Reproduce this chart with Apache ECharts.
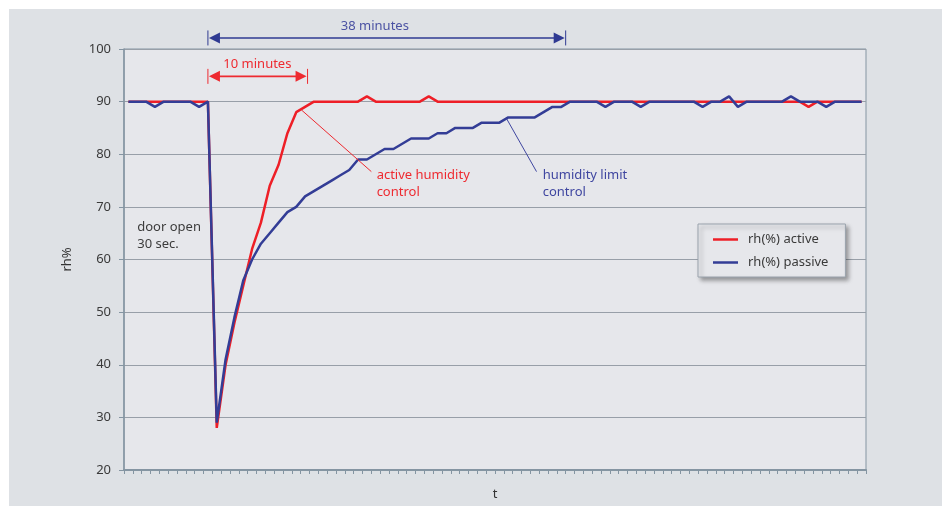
<!DOCTYPE html>
<html><head><meta charset="utf-8">
<script src="https://cdn.jsdelivr.net/npm/echarts@6/dist/echarts.min.js"></script>
<style>
html,body{margin:0;padding:0;background:#ffffff;}
#bg{position:absolute;left:9px;top:9px;width:933px;height:497px;background:#dee1e5;}
#c{position:absolute;left:0;top:0;width:942px;height:506px;}
</style></head><body>
<div id="bg"></div><div id="c"></div>
<script>
// ---- data ----
const categories = ['1','2','3','4','5','6','7','8','9','10','11','12','13','14','15','16','17','18','19','20',
 '21','22','23','24','25','26','27','28','29','30','31','32','33','34','35','36','37','38','39','40',
 '41','42','43','44','45','46','47','48','49','50','51','52','53','54','55','56','57','58','59','60',
 '61','62','63','64','65','66','67','68','69','70','71','72','73','74','75','76','77','78','79','80',
 '81','82','83','84'];
const activeRh = [90,90,90,90,90,90,90,90,90,90,
 28,40,48,55,62,67,74,78,84,88,
 89,90,90,90,90,90,90,91,90,90,
 90,90,90,90,91,90,90,90,90,90,
 90,90,90,90,90,90,90,90,90,90,
 90,90,90,90,90,90,90,90,90,90,
 90,90,90,90,90,90,90,90,90,90,
 90,90,90,90,90,90,90,89,90,90,
 90,90,90,90];
const passiveRh = [90,90,90,89,90,90,90,90,89,90,
 29,41,49,56,60,63,65,67,69,70,
 72,73,74,75,76,77,79,79,80,81,
 81,82,83,83,83,84,84,85,85,85,
 86,86,86,87,87,87,87,88,89,89,
 90,90,90,90,89,90,90,90,89,90,
 90,90,90,90,90,89,90,90,91,89,
 90,90,90,90,90,91,90,90,90,89,
 90,90,90,90];
const yMin = 20, yMax = 100, yStep = 10;
const seriesNames = ['rh(%) active', 'rh(%) passive'];

// annotation anchors in data coordinates [category index, rh value]
const span38 = {from: 9, to: 49.5, level: 102.1, textAt: 27.9, textLevel: 104.3, label: '38 minutes'};
const span10 = {from: 9, to: 20.28, level: 94.8, textAt: 14.6, textLevel: 97.1, label: '10 minutes'};
const activeCallout = {p1: [19.6, 88.4], p2: [27.5, 76.7], text: [28.1, 76.0], lines: ['active humidity', 'control']};
const passiveCallout = {p1: [42.8, 86.8], p2: [46.2, 76.7], text: [46.9, 76.0], lines: ['humidity limit', 'control']};
const doorNote = {at: [1.0, 66.2], lines: ['door open', '30 sec.']};

const RED = '#ee1f27', BLUE = '#333d96', AX = '#8595a2', GRIDC = '#989fa8';
const FONT = '"Noto Sans", "Open Sans", sans-serif';
const LEG_ICON = 'path://M0,0H25V2.5H0Z';

const chart = echarts.init(document.getElementById('c'));
chart.setOption({
  animation: false,
  backgroundColor: 'transparent',
  grid: {left: 124, right: 76, top: 49, bottom: 34, show: true, backgroundColor: '#e6e7eb', borderColor: AX, borderWidth: 1},
  legend: {
    data: seriesNames.map(n => ({name: n, icon: LEG_ICON})),
    orient: 'vertical', left: 698, top: 224, symbolKeepAspect: true,
    padding: [9, 17, 8, 15], itemWidth: 25, itemHeight: 14, itemGap: 10,
    backgroundColor: '#e6e7eb', borderColor: '#9aa3ad', borderWidth: 1,
    shadowColor: 'rgba(0,0,0,0.35)', shadowBlur: 4, shadowOffsetX: 3, shadowOffsetY: 3,
    textStyle: {fontFamily: FONT, fontSize: 13, color: '#3a3a3a', padding: [0, 0, 0, 5]}
  },
  xAxis: {
    type: 'category', data: categories, boundaryGap: true,
    name: 't', nameLocation: 'middle', nameGap: 18,
    nameTextStyle: {fontFamily: FONT, fontSize: 13, color: '#333'},
    axisLine: {lineStyle: {color: AX, width: 2}},
    axisTick: {show: true, interval: 0, length: 4, lineStyle: {color: AX}},
    axisLabel: {show: false},
    splitLine: {show: false}
  },
  yAxis: {
    type: 'value', min: yMin, max: yMax, interval: yStep,
    name: 'rh%', nameLocation: 'middle', nameGap: 50, nameRotate: 90,
    nameTextStyle: {fontFamily: FONT, fontSize: 13, color: '#333'},
    axisLine: {show: true, lineStyle: {color: AX, width: 1.5}},
    axisTick: {show: true, length: 5, lineStyle: {color: AX}},
    axisLabel: {margin: 13, fontFamily: FONT, fontSize: 13, color: '#3a3a3a'},
    splitLine: {show: true, lineStyle: {color: GRIDC, width: 1}}
  },
  series: [
    {name: seriesNames[0], type: 'line', data: activeRh, symbol: 'none', z: 2,
     lineStyle: {color: RED, width: 2.5}, itemStyle: {color: RED}},
    {name: seriesNames[1], type: 'line', data: passiveRh, symbol: 'none', z: 3,
     lineStyle: {color: BLUE, width: 2.5}, itemStyle: {color: BLUE}}
  ]
});

// ---- annotations positioned from data coordinates ----
const x0 = chart.convertToPixel({xAxisIndex: 0}, 0);
const band = chart.convertToPixel({xAxisIndex: 0}, 1) - x0;
function P(i, v) { return [x0 + i * band, chart.convertToPixel({yAxisIndex: 0}, v)]; }

function spanArrow(s, color, textColor) {
  const a = P(s.from, s.level), b = P(s.to, s.level);
  const y = a[1], ah = 12, aw = 5.5, bar = 7.5;
  const t = P(s.textAt, s.textLevel);
  return [
    {type: 'line', shape: {x1: a[0] + 4, y1: y, x2: b[0] - 4, y2: y}, style: {stroke: color, lineWidth: 1.6}},
    {type: 'line', shape: {x1: a[0], y1: y - bar, x2: a[0], y2: y + bar}, style: {stroke: color, lineWidth: 1}},
    {type: 'line', shape: {x1: b[0], y1: y - bar, x2: b[0], y2: y + bar}, style: {stroke: color, lineWidth: 1}},
    {type: 'polygon', shape: {points: [[a[0] + 1, y], [a[0] + ah, y - aw], [a[0] + ah, y + aw]]}, style: {fill: color}},
    {type: 'polygon', shape: {points: [[b[0] - 1, y], [b[0] - ah, y - aw], [b[0] - ah, y + aw]]}, style: {fill: color}},
    {type: 'text', style: {text: s.label, x: t[0], y: t[1], fill: textColor, font: '13px ' + FONT, textAlign: 'center', textVerticalAlign: 'middle'}}
  ];
}
function callout(c, color) {
  const a = P(c.p1[0], c.p1[1]), b = P(c.p2[0], c.p2[1]), t = P(c.text[0], c.text[1]);
  const els = [{type: 'line', shape: {x1: a[0], y1: a[1], x2: b[0], y2: b[1]}, style: {stroke: color, lineWidth: 1}}];
  c.lines.forEach((ln, k) => els.push({type: 'text', style: {text: ln, x: t[0], y: t[1] + k * 17, fill: color, font: '13px ' + FONT, textAlign: 'left', textVerticalAlign: 'middle'}}));
  return els;
}
const d = P(doorNote.at[0], doorNote.at[1]);
const els = [].concat(
  spanArrow(span38, '#2f3a92', '#4b52a3'),
  spanArrow(span10, '#ee2a30', '#ee2a30'),
  callout(activeCallout, '#ee2a30'),
  callout(passiveCallout, '#3f46a0'),
  doorNote.lines.map((ln, k) => ({type: 'text', style: {text: ln, x: d[0], y: d[1] + k * 17, fill: '#3c3c3c', font: '13px ' + FONT, textAlign: 'left', textVerticalAlign: 'middle'}}))
);
els.forEach(e => { e.z = 100; });
chart.setOption({graphic: {elements: els}});
</script>
</body></html>
